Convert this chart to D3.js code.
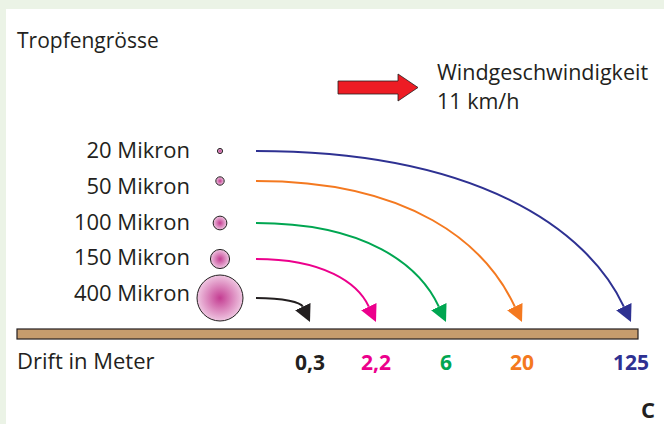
<!DOCTYPE html>
<meta charset="utf-8">
<script src="https://d3js.org/d3.v7.min.js"></script>
<style>
  body { margin: 0; }
  text { font-family: "Open Sans", "Noto Sans", sans-serif; }
</style>
<div id="my_dataviz"></div>
<script>

// droplet sizes, top to bottom
var sizes = ["20 Mikron", "50 Mikron", "100 Mikron", "150 Mikron", "400 Mikron"];
var microns = [20, 50, 100, 150, 400];
// drift distance in metres for each size
var drift = [125, 20, 6, 2.2, 0.3];
var driftLabels = ["125", "20", "6", "2,2", "0,3"];
var colors = ["#2e3192", "#f47920", "#00a651", "#ec008c", "#231f20"];

var width = 664, height = 424;

var svg = d3.select("#my_dataviz")
  .append("svg")
    .attr("width", width)
    .attr("height", height);

// green frame + white panel
svg.append("rect").attr("width", width).attr("height", height).attr("fill", "#ebf3e6");
svg.append("rect").attr("x", 6).attr("y", 9).attr("width", width - 6).attr("height", height - 9).attr("fill", "#fff");

// scales
var x = d3.scaleLinear()              // drift -> position of the landing point
  .domain([0.3, 2.2, 6, 20, 125])
  .range([310, 376, 446, 522, 631]);
var rowLabel = d3.scalePoint().domain(sizes).range([158, 301]);
var rowMark = d3.scaleOrdinal().domain(sizes).range([151, 181, 223, 259, 298]);
var r = d3.scaleLinear().domain([0, 400]).range([1.5, 23]);

var groundTop = 329, groundH = 10, tipY = 322;

// gradient for the droplets
var defs = svg.append("defs");
var grad = defs.append("radialGradient").attr("id", "drop");
grad.append("stop").attr("offset", "0%").attr("stop-color", "#c43d92");
grad.append("stop").attr("offset", "100%").attr("stop-color", "#efc6e1");

colors.forEach(function(c, i) {
  defs.append("marker")
    .attr("id", "head" + i)
    .attr("markerUnits", "userSpaceOnUse")
    .attr("viewBox", "0 -9 17 18")
    .attr("refX", 0).attr("refY", 0)
    .attr("markerWidth", 17).attr("markerHeight", 18)
    .attr("orient", "auto")
    .append("path")
      .attr("d", "M0,-8.5L17,0L0,8.5Z")
      .attr("fill", c);
});

// titles
svg.append("text")
  .attr("x", 17).attr("y", 48)
  .style("font-size", "21px").attr("fill", "#231f20")
  .text("Tropfengrösse");

svg.append("text")
  .attr("x", 437).attr("y", 80)
  .style("font-size", "21.5px").attr("fill", "#231f20")
  .text("Windgeschwindigkeit");
svg.append("text")
  .attr("x", 437).attr("y", 109)
  .style("font-size", "21.5px").attr("fill", "#231f20")
  .text("11 km/h");

// wind arrow
svg.append("path")
  .attr("d", "M338,81L398,81L398,74L418,87.5L398,101L398,94L338,94Z")
  .attr("fill", "#ed1c24")
  .attr("stroke", "#231f20")
  .attr("stroke-width", 0.8);

// size labels
svg.selectAll(".sizelab")
  .data(sizes)
  .enter().append("text")
    .attr("class", "sizelab")
    .attr("x", 190)
    .attr("y", function(d) { return rowLabel(d); })
    .attr("text-anchor", "end")
    .style("font-size", "22px")
    .attr("fill", "#231f20")
    .text(function(d) { return d; });

// droplets
svg.selectAll(".drop")
  .data(sizes)
  .enter().append("circle")
    .attr("class", "drop")
    .attr("cx", 220)
    .attr("cy", function(d) { return rowMark(d); })
    .attr("r", function(d, i) { return r(microns[i]); })
    .attr("fill", "url(#drop)")
    .attr("stroke", "#231f20")
    .attr("stroke-width", 1);

// drift curves
var ang = 65 * Math.PI / 180, ux = Math.cos(ang), uy = Math.sin(ang), headLen = 17;
svg.selectAll(".drift")
  .data(sizes)
  .enter().append("path")
    .attr("class", "drift")
    .attr("fill", "none")
    .attr("stroke", function(d, i) { return colors[i]; })
    .attr("stroke-width", 2)
    .attr("marker-end", function(d, i) { return "url(#head" + i + ")"; })
    .attr("d", function(d, i) {
      var x0 = 256, y0 = rowMark(d);
      var ex = x(drift[i]) - headLen * ux, ey = tipY - headLen * uy;
      var dx = ex - x0, dy = ey - y0, k = 0.5 * dy / uy;
      var p = d3.path();
      p.moveTo(x0, y0);
      p.bezierCurveTo(x0 + 0.6 * dx, y0, ex - k * ux, ey - k * uy, ex, ey);
      return p.toString();
    });

// ground
svg.append("rect")
  .attr("x", 17).attr("y", groundTop)
  .attr("width", 621).attr("height", groundH)
  .attr("fill", "#c69c6d")
  .attr("stroke", "#231f20")
  .attr("stroke-width", 1.2);

svg.append("text")
  .attr("x", 17).attr("y", 369)
  .style("font-size", "22px").attr("fill", "#231f20")
  .text("Drift in Meter");

svg.selectAll(".driftlab")
  .data(driftLabels)
  .enter().append("text")
    .attr("class", "driftlab")
    .attr("x", function(d, i) { return x(drift[i]); })
    .attr("y", 370)
    .attr("text-anchor", "middle")
    .style("font-size", "21px")
    .style("font-weight", "bold")
    .attr("fill", function(d, i) { return colors[i]; })
    .text(function(d) { return d; });

svg.append("text")
  .attr("x", 655).attr("y", 418)
  .attr("text-anchor", "end")
  .style("font-size", "22px")
  .style("font-weight", "bold")
  .attr("fill", "#231f20")
  .text("C");

</script>
